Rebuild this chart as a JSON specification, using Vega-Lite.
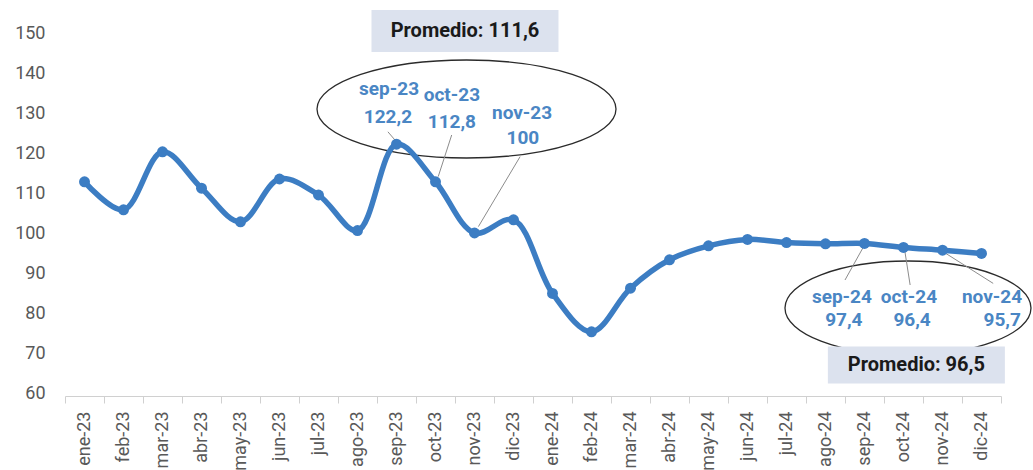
{
  "$schema": "https://vega.github.io/schema/vega-lite/v6.json",
  "width": 936,
  "height": 360,
  "autosize": {"type": "none"},
  "padding": {"left": 65, "top": 33, "right": 32, "bottom": 77},
  "background": "white",
  "config": {"view": {"stroke": null}, "font": "Roboto"},
  "datasets": {
    "serie": [
      {"x": 0, "mes": "ene-23", "y": 112.8},
      {"x": 1, "mes": "feb-23", "y": 105.8},
      {"x": 2, "mes": "mar-23", "y": 120.3},
      {"x": 3, "mes": "abr-23", "y": 111.2},
      {"x": 4, "mes": "may-23", "y": 102.8},
      {"x": 5, "mes": "jun-23", "y": 113.5},
      {"x": 6, "mes": "jul-23", "y": 109.5},
      {"x": 7, "mes": "ago-23", "y": 100.6},
      {"x": 8, "mes": "sep-23", "y": 122.2},
      {"x": 9, "mes": "oct-23", "y": 112.8},
      {"x": 10, "mes": "nov-23", "y": 100},
      {"x": 11, "mes": "dic-23", "y": 103.3},
      {"x": 12, "mes": "ene-24", "y": 84.9},
      {"x": 13, "mes": "feb-24", "y": 75.3},
      {"x": 14, "mes": "mar-24", "y": 86.2},
      {"x": 15, "mes": "abr-24", "y": 93.3},
      {"x": 16, "mes": "may-24", "y": 96.8},
      {"x": 17, "mes": "jun-24", "y": 98.4},
      {"x": 18, "mes": "jul-24", "y": 97.6},
      {"x": 19, "mes": "ago-24", "y": 97.3},
      {"x": 20, "mes": "sep-24", "y": 97.4},
      {"x": 21, "mes": "oct-24", "y": 96.4},
      {"x": 22, "mes": "nov-24", "y": 95.7},
      {"x": 23, "mes": "dic-24", "y": 94.9}
    ],
    "etiquetas": [
      {"x": 7.81, "y": 135.9, "t": "sep-23"},
      {"x": 7.78, "y": 129.0, "t": "122,2"},
      {"x": 9.42, "y": 134.5, "t": "oct-23"},
      {"x": 9.42, "y": 127.7, "t": "112,8"},
      {"x": 11.22, "y": 130.0, "t": "nov-23"},
      {"x": 11.24, "y": 123.7, "t": "100"},
      {"x": 19.42, "y": 83.9, "t": "sep-24"},
      {"x": 19.47, "y": 78.2, "t": "97,4"},
      {"x": 21.14, "y": 83.9, "t": "oct-24"},
      {"x": 21.22, "y": 78.2, "t": "96,4"},
      {"x": 23.27, "y": 83.9, "t": "nov-24"},
      {"x": 23.53, "y": 78.2, "t": "95,7"}
    ],
    "guias": [
      {"g": "a", "x": 7.78, "y": 125.3},
      {"g": "a", "x": 7.96, "y": 123.25},
      {"g": "b", "x": 9.415, "y": 124.5},
      {"g": "b", "x": 9.07, "y": 114.1},
      {"g": "c", "x": 11.17, "y": 119.1},
      {"g": "c", "x": 10.1, "y": 101.6},
      {"g": "d", "x": 20.0, "y": 97.0},
      {"g": "d", "x": 19.5, "y": 88.25},
      {"g": "e", "x": 21.03, "y": 95.75},
      {"g": "e", "x": 21.17, "y": 87.0},
      {"g": "f", "x": 22.02, "y": 95.3},
      {"g": "f", "x": 23.3, "y": 87.4}
    ],
    "elipse1": [{"x": 9.795, "y": 131}],
    "elipse2": [{"x": 21.115, "y": 81.25}],
    "caja1": [{"x": 9.756, "y": 150.5, "t": "Promedio: 111,6"}],
    "caja2": [{"x": 21.33, "y": 67, "t": "Promedio: 96,5"}]
  },
  "layer": [
    {
      "data": {"name": "elipse1"},
      "mark": {"type": "point", "shape": "M -1 0 C -1 -0.181 -0.5523 -0.3278 0 -0.3278 C 0.5523 -0.3278 1 -0.181 1 0 C 1 0.181 0.5523 0.3278 0 0.3278 C -0.5523 0.3278 -1 0.181 -1 0 Z", "size": 89401, "filled": false, "stroke": "#2b2b2b", "strokeWidth": 1.3, "opacity": 1},
      "encoding": {
        "x": {"field": "x", "type": "quantitative", "title": null,
          "scale": {"domain": [-0.5, 23.5], "nice": false, "zero": false},
          "axis": {
            "values": [-0.5, 0.5, 1.5, 2.5, 3.5, 4.5, 5.5, 6.5, 7.5, 8.5, 9.5, 10.5, 11.5, 12.5, 13.5, 14.5, 15.5, 16.5, 17.5, 18.5, 19.5, 20.5, 21.5, 22.5, 23.5],
            "tickCount": 60,
            "labelExpr": "datum.value > 23 ? '' : ['ene-23','feb-23','mar-23','abr-23','may-23','jun-23','jul-23','ago-23','sep-23','oct-23','nov-23','dic-23','ene-24','feb-24','mar-24','abr-24','may-24','jun-24','jul-24','ago-24','sep-24','oct-24','nov-24','dic-24'][round(datum.value + 0.5)]",
            "labelAngle": -90, "labelAlign": "right", "labelBaseline": "middle",
            "labelOffset": 19.5, "labelFontSize": 18, "labelColor": "#595959", "labelFont": "Roboto",
            "labelPadding": 8, "tickSize": 7, "tickColor": "#d0d0d0", "domainColor": "#d0d0d0",
            "grid": false, "labelFlush": false, "labelOverlap": false, "labelBound": false, "offset": 3, "title": null
          }
        },
        "y": {"field": "y", "type": "quantitative", "title": null,
          "scale": {"domain": [60, 150], "nice": false, "zero": false},
          "axis": {
            "values": [60, 70, 80, 90, 100, 110, 120, 130, 140, 150],
            "tickCount": 30,
            "ticks": false, "tickSize": 0, "domain": false, "grid": false,
            "labelPadding": 20, "labelFontSize": 18, "labelColor": "#595959", "labelFont": "Roboto",
            "labelOverlap": false, "labelFlush": false, "title": null
          }
        }
      }
    },
    {
      "data": {"name": "elipse2"},
      "mark": {"type": "point", "shape": "M -1 0 C -1 -0.211 -0.5523 -0.3821 0 -0.3821 C 0.5523 -0.3821 1 -0.211 1 0 C 1 0.211 0.5523 0.3821 0 0.3821 C -0.5523 0.3821 -1 0.211 -1 0 Z", "size": 60516, "filled": false, "stroke": "#2b2b2b", "strokeWidth": 1.3, "opacity": 1},
      "encoding": {
        "x": {"field": "x", "type": "quantitative", "title": null},
        "y": {"field": "y", "type": "quantitative", "title": null}
      }
    },
    {
      "data": {"name": "guias"},
      "mark": {"type": "line", "color": "#8c8c8c", "strokeWidth": 1},
      "encoding": {
        "x": {"field": "x", "type": "quantitative", "title": null},
        "y": {"field": "y", "type": "quantitative", "title": null},
        "detail": {"field": "g", "type": "nominal"}
      }
    },
    {
      "data": {"name": "serie"},
      "mark": {"type": "line", "color": "#3c7dc3", "strokeWidth": 5.5, "interpolate": "catmull-rom", "strokeCap": "round", "strokeJoin": "round"},
      "encoding": {
        "x": {"field": "x", "type": "quantitative", "title": null},
        "y": {"field": "y", "type": "quantitative", "title": null}
      }
    },
    {
      "data": {"name": "serie"},
      "mark": {"type": "point", "filled": true, "color": "#3c7dc3", "size": 120, "opacity": 1},
      "encoding": {
        "x": {"field": "x", "type": "quantitative", "title": null},
        "y": {"field": "y", "type": "quantitative", "title": null}
      }
    },
    {
      "data": {"name": "etiquetas"},
      "mark": {"type": "text", "font": "Roboto", "fontWeight": "bold", "fontSize": 19, "color": "#4a86c4", "align": "center", "baseline": "middle"},
      "encoding": {
        "x": {"field": "x", "type": "quantitative", "title": null},
        "y": {"field": "y", "type": "quantitative", "title": null},
        "text": {"field": "t", "type": "nominal"}
      }
    },
    {
      "data": {"name": "caja1"},
      "mark": {"type": "point", "shape": "M -1 -0.2246 L 1 -0.2246 L 1 0.2246 L -1 0.2246 Z", "size": 34969, "filled": true, "fill": "#dce2ee", "strokeWidth": 0, "opacity": 1},
      "encoding": {
        "x": {"field": "x", "type": "quantitative", "title": null},
        "y": {"field": "y", "type": "quantitative", "title": null}
      }
    },
    {
      "data": {"name": "caja2"},
      "mark": {"type": "point", "shape": "M -1 -0.209 L 1 -0.209 L 1 0.209 L -1 0.209 Z", "size": 31329, "filled": true, "fill": "#dce2ee", "strokeWidth": 0, "opacity": 1},
      "encoding": {
        "x": {"field": "x", "type": "quantitative", "title": null},
        "y": {"field": "y", "type": "quantitative", "title": null}
      }
    },
    {
      "data": {"name": "caja1"},
      "mark": {"type": "text", "font": "Roboto", "fontWeight": "bold", "fontSize": 20, "color": "#1a1a1a", "align": "center", "baseline": "middle"},
      "encoding": {
        "x": {"field": "x", "type": "quantitative", "title": null},
        "y": {"field": "y", "type": "quantitative", "title": null},
        "text": {"field": "t", "type": "nominal"}
      }
    },
    {
      "data": {"name": "caja2"},
      "mark": {"type": "text", "font": "Roboto", "fontWeight": "bold", "fontSize": 20, "color": "#1a1a1a", "align": "center", "baseline": "middle"},
      "encoding": {
        "x": {"field": "x", "type": "quantitative", "title": null},
        "y": {"field": "y", "type": "quantitative", "title": null},
        "text": {"field": "t", "type": "nominal"}
      }
    }
  ]
}
